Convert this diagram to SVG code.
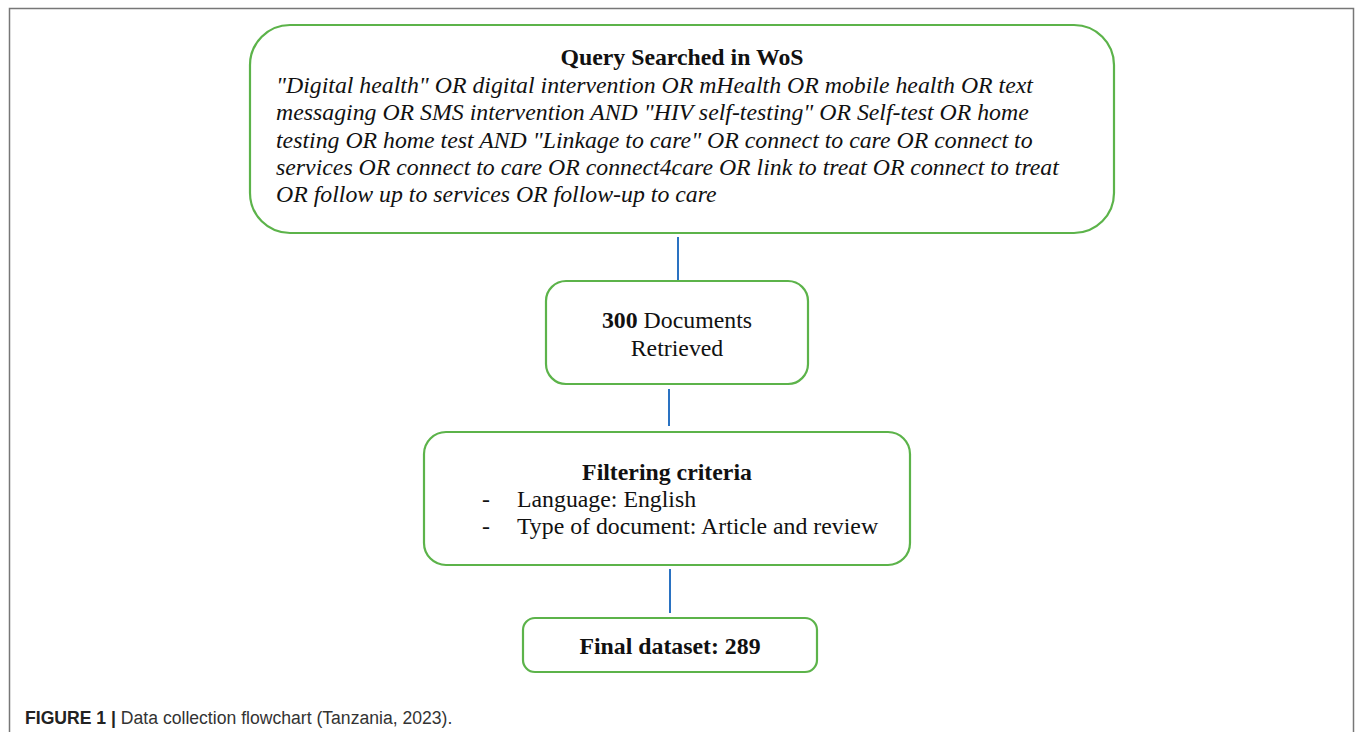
<svg xmlns="http://www.w3.org/2000/svg" width="1355" height="732" viewBox="0 0 1355 732">
<style>
.box{fill:#fff;stroke:#5cb34a;stroke-width:2.2}
.conn{stroke:#2a72c2;stroke-width:2;fill:none}
.t{font-family:"Liberation Serif","Times New Roman",serif;font-size:23.8px;fill:#111}
.b{font-weight:bold}
.i{font-style:italic}
.cap{font-family:"Liberation Sans",Arial,sans-serif;font-size:17.6px;fill:#333}
</style>
<rect width="1355" height="732" fill="#fff"/>
<path d="M9.5 732 V8.5 H1353.5 V732" fill="none" stroke="#777" stroke-width="1.5"/>
<g id="connectors">
<line class="conn" x1="678" y1="237" x2="678" y2="280"/>
<line class="conn" x1="669" y1="389" x2="669" y2="426"/>
<line class="conn" x1="670" y1="569" x2="670" y2="613"/>
</g>
<g id="query">
<rect class="box" x="250" y="25" width="864" height="208" rx="40"/>
<text class="t b" x="682" y="65" text-anchor="middle">Query Searched in WoS</text>
<text class="t i" x="276"><tspan x="276" y="93">"Digital health" OR digital intervention OR mHealth OR mobile health OR text</tspan><tspan x="276" y="120">messaging OR SMS intervention AND "HIV self-testing" OR Self-test OR home</tspan><tspan x="276" y="148">testing OR home test AND "Linkage to care" OR connect to care OR connect to</tspan><tspan x="276" y="175">services OR connect to care OR connect4care OR link to treat OR connect to treat</tspan><tspan x="276" y="202">OR follow up to services OR follow-up to care</tspan></text>
</g>
<g id="retrieved">
<rect class="box" x="546" y="281" width="262" height="103" rx="20"/>
<text class="t" x="677" y="328" text-anchor="middle"><tspan class="b">300</tspan> Documents</text>
<text class="t" x="677" y="356" text-anchor="middle">Retrieved</text>
</g>
<g id="filtering">
<rect class="box" x="424" y="432" width="486" height="133" rx="22"/>
<text class="t b" x="667" y="480" text-anchor="middle">Filtering criteria</text>
<text class="t" x="482" y="507">-</text>
<text class="t" x="517" y="507">Language: English</text>
<text class="t" x="482" y="534">-</text>
<text class="t" x="517" y="534">Type of document: Article and review</text>
</g>
<g id="final">
<rect class="box" x="523" y="618" width="294" height="54" rx="12"/>
<text class="t b" x="670" y="654" text-anchor="middle">Final dataset: 289</text>
</g>
<text class="cap" x="25" y="724"><tspan font-weight="bold" fill="#222">FIGURE 1 |</tspan> Data collection flowchart (Tanzania, 2023).</text>
</svg>
